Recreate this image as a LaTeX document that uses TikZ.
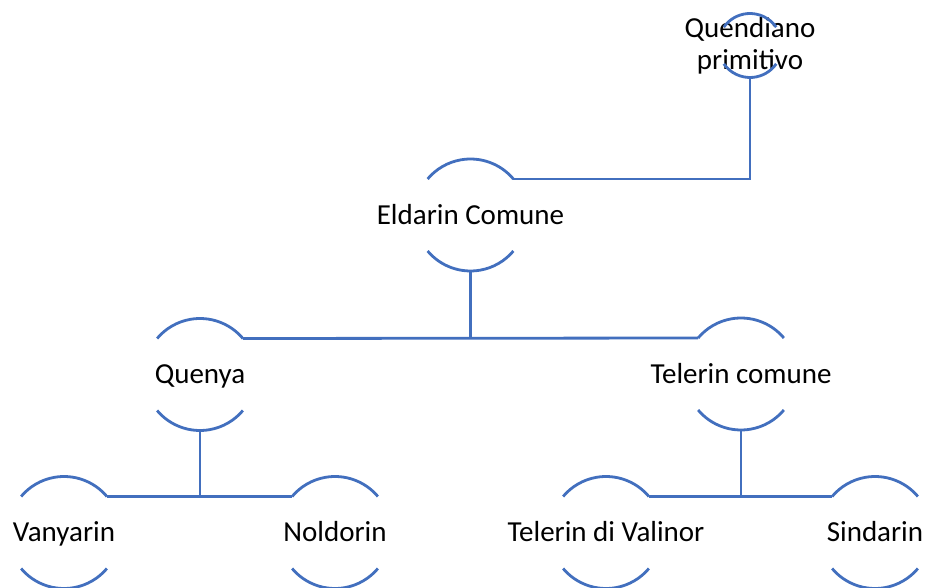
\documentclass[tikz,border=0pt]{standalone}
\usepackage{fontspec}
\setmainfont{Carlito}
\usetikzlibrary{positioning}
\definecolor{lineblue}{RGB}{66,111,190}

\begin{document}
\begin{tikzpicture}[x=1pt, y=1pt,
  ring/.style={circle, minimum size=112pt, inner sep=0pt, outer sep=0pt},
  smallring/.style={circle, minimum size=64pt, inner sep=0pt, outer sep=0pt},
  lang/.style={font=\fontsize{29}{32}\selectfont, inner sep=0pt, text height=18.7pt, text depth=0pt},
  link/.style={lineblue, line width=2.8pt}]

\useasboundingbox (0,0) rectangle (927,587);

% Circles of the languages (only their arcs get drawn)
\node[smallring] (qp) at (750,541.5) {};
\node[ring] (ec) at (470.5,372) {};
\node[ring] (qu) at (200,212.5) {};
\node[ring] (tc) at (741,213) {};
\node[ring] (va) at (64,54.5) {};
\node[ring] (no) at (335,54.5) {};
\node[ring] (tv) at (606,54.5) {};
\node[ring] (si) at (875,54.5) {};

% Names of the languages
\node[font=\fontsize{29}{32}\selectfont, align=center, inner sep=0pt, anchor=base] (qpt) at (750,517) {Quendiano\\primitivo};
\node[lang] (ect) at (ec) {Eldarin Comune};
\node[lang] (qut) at (qu) {Quenya};
\node[lang] (tct) at (tc) {Telerin comune};
\node[lang] (vat) at (va) {Vanyarin};
\node[lang] (not) at (no) {Noldorin};
\node[lang] (tvt) at (tv) {Telerin di Valinor};
\node[lang] (sit) at (si) {Sindarin};

% Top and bottom arcs
\foreach \n in {ec,qu,tc,va,no,tv,si} {
  \draw[link] (\n.40) arc[start angle=40, end angle=140, radius=56pt];
  \draw[link] (\n.220) arc[start angle=220, end angle=320, radius=56pt];
}
\draw[link] (qp.35) arc[start angle=35, end angle=145, radius=32pt];
\draw[link] (qp.215) arc[start angle=215, end angle=325, radius=32pt];

% Connectors between the levels
\draw[link] (ec.40) -| (qp.south);
\draw[link] (qu.40) -- (tc.140);
\draw[link] (ec.south) -- (ec.south |- qu.40);
\draw[link] (va.40) -- (no.140);
\draw[link] (qu.south) -- (qu.south |- va.40);
\draw[link] (tv.40) -- (si.140);
\draw[link] (tc.south) -- (tc.south |- tv.40);

\end{tikzpicture}
\end{document}
